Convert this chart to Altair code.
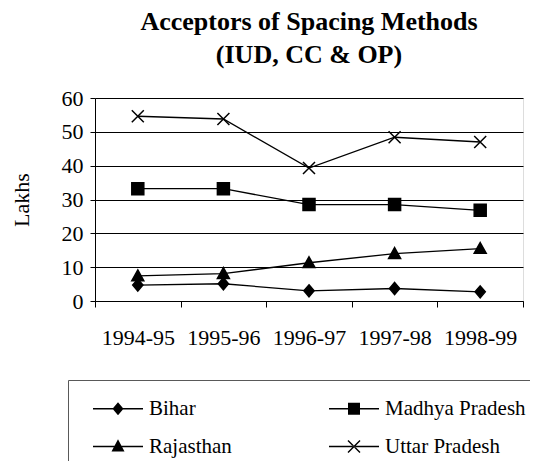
import altair as alt
import pandas as pd

years = ["1994-95", "1995-96", "1996-97", "1997-98", "1998-99"]
states = ["Bihar", "Madhya Pradesh", "Rajasthan", "Uttar Pradesh"]
bihar = [4.7, 5.1, 3.0, 3.7, 2.7]
madhya_pradesh = [33.2, 33.2, 28.5, 28.5, 26.8]
rajasthan = [7.4, 8.1, 11.3, 14.0, 15.5]
uttar_pradesh = [54.6, 53.8, 39.3, 48.4, 47.0]
y_ticks = [0, 10, 20, 30, 40, 50, 60]

series = [bihar, madhya_pradesh, rajasthan, uttar_pradesh]
rows = []
for s, vals in zip(states, series):
    for yr, v in zip(years, vals):
        rows.append({"Year": yr, "State": s, "Value": v})
df = pd.DataFrame(rows)

FONT = "Liberation Serif"

plot_shapes = [
    "M0,-1L0.85,0L0,1L-0.85,0Z",
    "M-1,-1H1V1H-1Z",
    "M0,-1L1,0.8H-1Z",
    "M-1,-1L1,1M1,-1L-1,1",
]

# legend symbols: filled shapes (line sample + marker), unit = 10px
LINE = "M-0.35,-0.07H4.65V0.07H-0.35Z"
C = 2.15  # marker centre along the sample
legend_shapes = [
    LINE + f"M{C},-0.65L{C+0.55},0L{C},0.65L{C-0.55},0Z",
    LINE + f"M{C-0.6},-0.6H{C+0.6}V0.6H{C-0.6}Z",
    LINE + f"M{C},-0.72L{C+0.65},0.5H{C-0.65}Z",
    LINE
    + f"M{C-0.65},-0.55L{C+0.55},0.65L{C+0.65},0.55L{C-0.55},-0.65Z"
    + f"M{C+0.55},-0.65L{C+0.65},-0.55L{C-0.55},0.65L{C-0.65},0.55Z",
]

x_enc = alt.X(
    "Year:O",
    sort=years,
    scale=alt.Scale(paddingInner=0, paddingOuter=0),
    axis=alt.Axis(
        title=None,
        tickBand="extent",
        tickSize=6,
        tickColor="black",
        domainColor="black",
        labelPadding=20,
        labelAngle=0,
        labelFont=FONT,
        labelFontSize=22,
        labelColor="black",
        grid=False,
    ),
)
y_enc = alt.Y(
    "Value:Q",
    scale=alt.Scale(domain=[0, 60], nice=False),
    axis=alt.Axis(
        title="Lakhs",
        values=y_ticks,
        titleFont=FONT,
        titleFontSize=22,
        titleFontWeight="normal",
        titleColor="black",
        titlePadding=28,
        labelFont=FONT,
        labelFontSize=22,
        labelColor="black",
        labelPadding=7,
        tickSize=5,
        tickColor="black",
        domainColor="black",
        grid=True,
        gridColor="black",
        gridOpacity=1,
    ),
)

base = alt.Chart(df)

lines = base.mark_line(color="black", strokeWidth=1.3).encode(
    x=x_enc, y=y_enc, detail="State:N"
)

marker_layers = []
for s, path in zip(states, plot_shapes):
    marker_layers.append(
        base.transform_filter(alt.datum.State == s)
        .mark_point(
            shape=path,
            filled=True,
            fill="black",
            stroke="black",
            strokeWidth=1.5,
            size=144,
            opacity=1,
        )
        .encode(x=x_enc, y=y_enc)
    )

legend_layer = base.mark_point(filled=True, color="black", opacity=0).encode(
    x=x_enc,
    y=y_enc,
    shape=alt.Shape(
        "State:N",
        scale=alt.Scale(domain=states, range=legend_shapes),
        legend=alt.Legend(
            title=None,
            orient="none",
            direction="horizontal",
            legendX=-27,
            legendY=282,
            columns=2,
            gridAlign="all",
            columnPadding=32,
            rowPadding=16,
            padding=18,
            strokeColor="#595959",
            symbolSize=400,
            symbolFillColor="black",
            symbolStrokeWidth=0,
            symbolOpacity=1,
            labelFont=FONT,
            labelFontSize=21,
            labelColor="black",
            labelOffset=42,
            labelLimit=300,
        ),
    ),
)

chart = (
    alt.layer(lines, *marker_layers, legend_layer)
    .properties(
        width=428,
        height=203,
        autosize=alt.AutoSizeParams(type="none"),
        padding={"left": 87, "top": 90, "right": 7, "bottom": 160},
        title=alt.TitleParams(
            text=["Acceptors of Spacing Methods", "(IUD, CC & OP)"],
            font=FONT,
            fontSize=26,
            fontWeight="bold",
            color="black",
            anchor="middle",
            frame="group",
            lineHeight=33,
            offset=19,
        ),
    )
    .configure_view(stroke=None)
    .configure(background="white")
)

chart.save("out.html", embed_options={"renderer": "svg", "actions": False})
